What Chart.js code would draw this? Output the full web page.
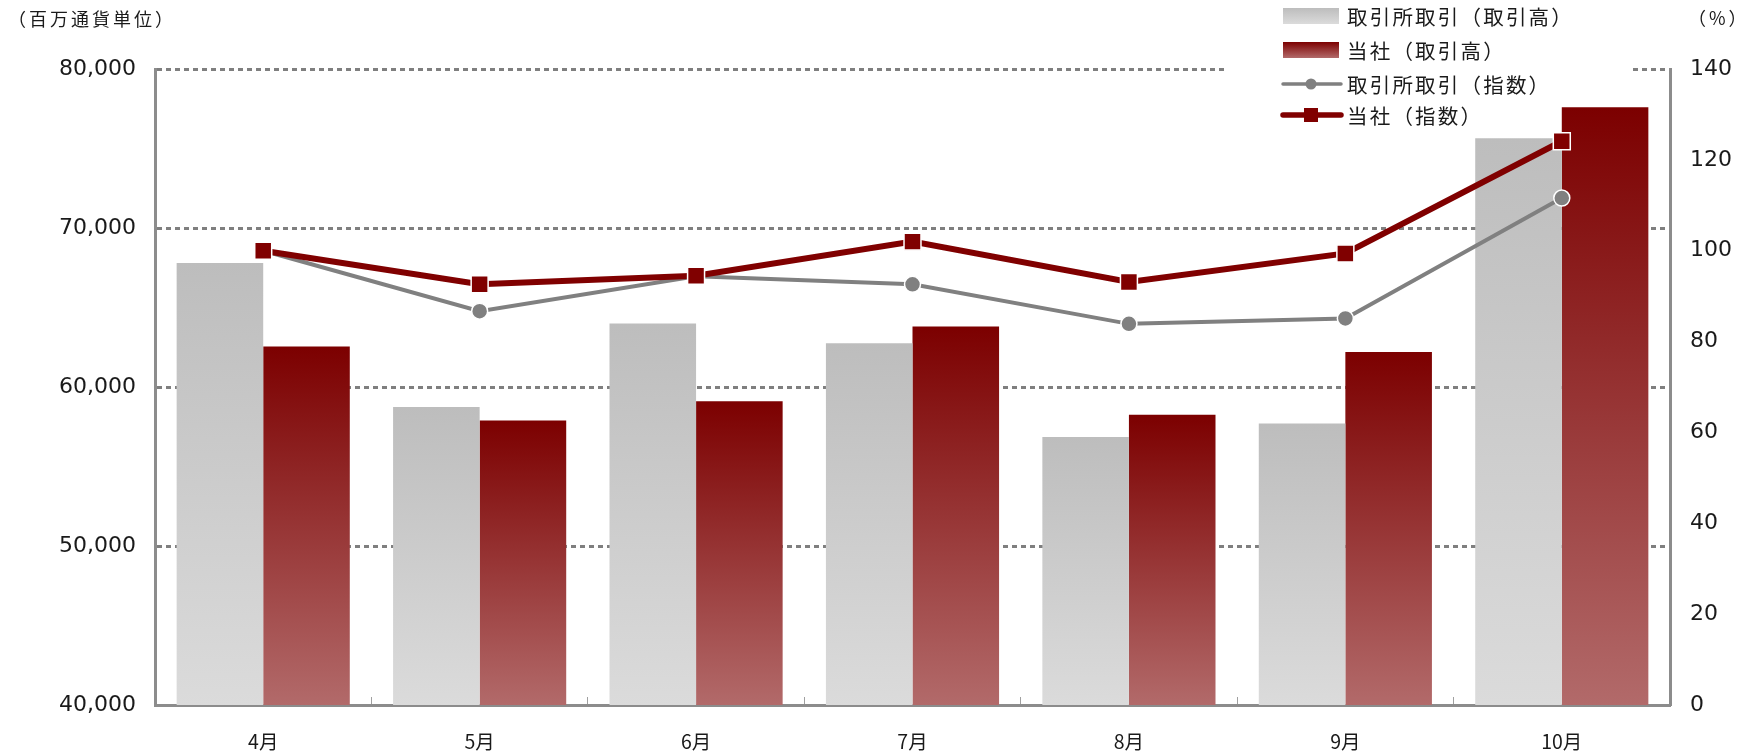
<!DOCTYPE html>
<html lang="ja">
<head>
<meta charset="UTF-8">
<title>取引高と指数の推移</title>
<script src="https://cdn.jsdelivr.net/npm/chart.js@4.4.1/dist/chart.umd.min.js"></script>
<style>
  html, body { margin: 0; padding: 0; background: #fff; }
  #wrap { width: 1749px; height: 756px; }
</style>
</head>
<body>
<div id="wrap"><canvas id="chart" width="1749" height="756"></canvas></div>
<script>
// ----------------------
// Data
// ----------------------
const months = ["4月", "5月", "6月", "7月", "8月", "9月", "10月"];
const exchangeVolume = [67800, 58750, 64000, 62750, 56850, 57700, 75650];   // 百万通貨
const companyVolume = [62550, 57900, 59100, 63800, 58250, 62200, 77600];    // 百万通貨
const exchangeIndex = [100, 86.7, 94.4, 92.6, 83.9, 85.1, 111.6];           // %
const companyIndex = [100, 92.6, 94.5, 102.0, 93.1, 99.4, 124.1];           // %
const volumeTicks = [40000, 50000, 60000, 70000, 80000];
const indexTicks = [0, 20, 40, 60, 80, 100, 120, 140];

const legendLabels = ["取引所取引（取引高）", "当社（取引高）", "取引所取引（指数）", "当社（指数）"];

const GRAY_TOP = "#bdbdbd", GRAY_BOTTOM = "#dbdbdb";
const RED_TOP = "#7c0000", RED_BOTTOM = "#b26a6a";
const AXIS_COLOR = "#8c8c8c";
const JP_FONT = "'Noto Sans CJK JP', 'Noto Sans', sans-serif";

// vertical gradient per bar, from its top down to the axis floor
function barGradient(top, bottom) {
    return function (context) {
        const chart = context.chart;
        const yScale = chart.scales.y;
        if (!chart.chartArea || !yScale || context.raw === undefined) return top;
        const y0 = yScale.getPixelForValue(context.raw);
        const y1 = yScale.getPixelForValue(yScale.min);
        const g = chart.ctx.createLinearGradient(0, y0, 0, y1);
        g.addColorStop(0, top);
        g.addColorStop(1, bottom);
        return g;
    };
}

// ----------------------
// Legend + unit captions (drawn by hand)
// ----------------------
const legendPlugin = {
    id: "sideLegend",
    beforeDatasetsDraw(chart) {
        // legend sits on a white panel that hides the top grid line
        const ctx = chart.ctx;
        ctx.save();
        ctx.fillStyle = "#fff";
        ctx.fillRect(1227, 58, 404, 22);
        ctx.restore();
    },
    afterDraw(chart) {
        const ctx = chart.ctx;
        ctx.save();
        ctx.textBaseline = "middle";
        ctx.fillStyle = "#1a1a1a";

        // unit captions
        ctx.font = "18px " + JP_FONT;
        ctx.letterSpacing = "3px";
        ctx.textAlign = "left";
        ctx.fillText("（百万通貨単位）", 8, 19);
        ctx.fillText("（%）", 1688, 18);

        const x0 = 1283, x1 = 1341, xm = 1311;
        const rows = [16, 50, 84, 115];

        // bar swatches
        const boxes = [[GRAY_TOP, GRAY_BOTTOM], [RED_TOP, RED_BOTTOM]];
        boxes.forEach((c, i) => {
            const y = rows[i] - 8;
            const g = ctx.createLinearGradient(0, y, 0, y + 16);
            g.addColorStop(0, c[0]);
            g.addColorStop(1, c[1]);
            ctx.fillStyle = g;
            ctx.fillRect(x0, y, x1 - x0 - 2, 16);
        });

        // line swatches
        ctx.lineCap = "round";
        ctx.strokeStyle = "#808080";
        ctx.lineWidth = 3.5;
        ctx.beginPath();
        ctx.moveTo(x0, rows[2]);
        ctx.lineTo(x1, rows[2]);
        ctx.stroke();
        ctx.fillStyle = "#808080";
        ctx.beginPath();
        ctx.arc(xm, rows[2], 5.5, 0, Math.PI * 2);
        ctx.fill();

        ctx.strokeStyle = "#800000";
        ctx.lineWidth = 5.5;
        ctx.beginPath();
        ctx.moveTo(x0, rows[3]);
        ctx.lineTo(x1, rows[3]);
        ctx.stroke();
        ctx.fillStyle = "#800000";
        ctx.fillRect(xm - 7, rows[3] - 7, 14, 14);

        // labels
        ctx.fillStyle = "#1a1a1a";
        ctx.font = "20.5px " + JP_FONT;
        ctx.letterSpacing = "2.2px";
        legendLabels.forEach((t, i) => ctx.fillText(t, 1347, rows[i] + 1));
        ctx.restore();
    }
};

// ----------------------
// Chart
// ----------------------
const ctx = document.getElementById("chart").getContext("2d");

new Chart(ctx, {
    type: "bar",
    data: {
        labels: months,
        datasets: [
            {
                type: "line",
                label: legendLabels[3],
                data: companyIndex,
                yAxisID: "y1",
                borderColor: "#800000",
                borderWidth: 6,
                pointStyle: "rect",
                pointRadius: 12,
                pointBackgroundColor: "#800000",
                pointBorderColor: "#fff",
                pointBorderWidth: 1.5,
                tension: 0,
                clip: false,
                order: 1
            },
            {
                type: "line",
                label: legendLabels[2],
                data: exchangeIndex,
                yAxisID: "y1",
                borderColor: "#808080",
                borderWidth: 4,
                pointStyle: "circle",
                pointRadius: 8,
                pointBackgroundColor: "#808080",
                pointBorderColor: "#fff",
                pointBorderWidth: 1.5,
                tension: 0,
                clip: false,
                order: 2
            },
            {
                label: legendLabels[0],
                data: exchangeVolume,
                yAxisID: "y",
                backgroundColor: barGradient(GRAY_TOP, GRAY_BOTTOM),
                borderWidth: 0,
                categoryPercentage: 0.8,
                barPercentage: 1.0,
                order: 3
            },
            {
                label: legendLabels[1],
                data: companyVolume,
                yAxisID: "y",
                backgroundColor: barGradient(RED_TOP, RED_BOTTOM),
                borderWidth: 0,
                categoryPercentage: 0.8,
                barPercentage: 1.0,
                order: 4
            }
        ]
    },
    options: {
        responsive: false,
        animation: false,
        events: [],
        layout: { padding: { top: 69, left: 0, right: 0, bottom: 0 } },
        plugins: {
            legend: { display: false },
            tooltip: { enabled: false }
        },
        scales: {
            x: {
                offset: true,
                grid: {
                    offset: true,
                    drawOnChartArea: false,
                    drawTicks: true,
                    tickLength: -8,
                    color: "#a0a0a0",
                    lineWidth: 1
                },
                border: { display: true, color: AXIS_COLOR, width: 3 },
                ticks: {
                    padding: 33,
                    color: "#1a1a1a",
                    font: { family: JP_FONT, size: 19.5 }
                },
                afterFit(scale) { scale.height = 51; }
            },
            y: {
                position: "left",
                min: volumeTicks[0],
                max: volumeTicks[volumeTicks.length - 1],
                grid: {
                    drawTicks: false,
                    color: "#7f7f7f",
                    lineWidth: 3
                },
                border: { display: true, color: AXIS_COLOR, width: 3, dash: [5, 4] },
                ticks: {
                    stepSize: volumeTicks[1] - volumeTicks[0],
                    padding: 19,
                    color: "#1a1a1a",
                    font: { family: "'DejaVu Sans', sans-serif", size: 22 },
                    callback: v => v.toLocaleString("en-US")
                },
                afterFit(scale) { scale.width = 155; }
            },
            y1: {
                position: "right",
                min: indexTicks[0],
                max: indexTicks[indexTicks.length - 1],
                grid: { drawOnChartArea: false, drawTicks: false },
                border: { display: true, color: AXIS_COLOR, width: 3 },
                ticks: {
                    stepSize: indexTicks[1] - indexTicks[0],
                    padding: 20,
                    color: "#1a1a1a",
                    font: { family: "'DejaVu Sans', sans-serif", size: 22 }
                },
                afterFit(scale) { scale.width = 79; }
            }
        }
    },
    plugins: [legendPlugin]
});
</script>
</body>
</html>
